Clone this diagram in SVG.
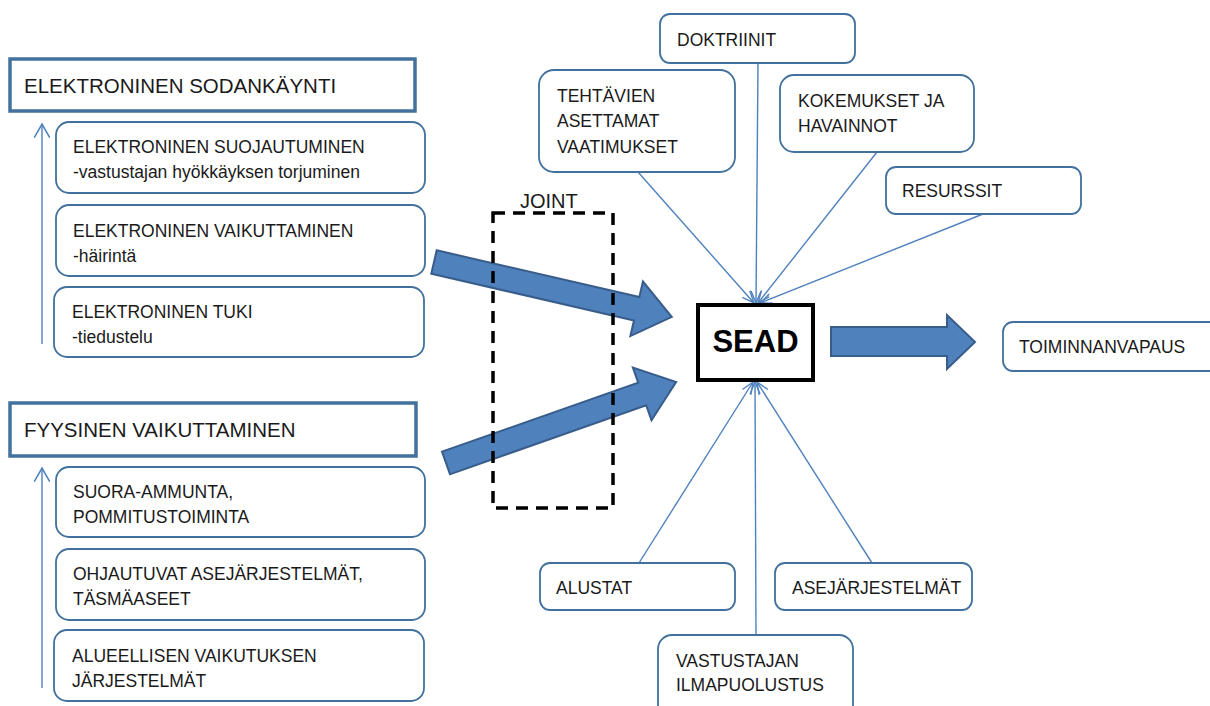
<svg xmlns="http://www.w3.org/2000/svg" width="1210" height="706" viewBox="0 0 1210 706">
<style>
text{font-family:"Liberation Sans",Arial,sans-serif;fill:#1a1a1a;font-size:17.5px}
.hdr{fill:#fff;stroke:#41719C;stroke-width:3.5}
.hdrt{font-size:20.5px}
.box{fill:#fff;stroke:#41719C;stroke-width:1.8}
.con{stroke:#4F81BD;stroke-width:1.4;fill:none}
.big{fill:#4F81BD;stroke:#385D8A;stroke-width:2}
</style>
<defs>
<marker id="oa" viewBox="0 0 12 12" refX="12" refY="6" markerWidth="12" markerHeight="12" markerUnits="userSpaceOnUse" orient="auto">
<path d="M0,1 L12,6 L0,11" fill="none" stroke="#4F81BD" stroke-width="1.4"/>
</marker>
<marker id="up" viewBox="0 0 16 16" refX="14" refY="8" markerWidth="16" markerHeight="16" markerUnits="userSpaceOnUse" orient="auto">
<path d="M0,0 L14,8 L0,16" fill="none" stroke="#4F81BD" stroke-width="1.6"/>
</marker>
</defs>
<rect width="1210" height="706" fill="#fff"/>

<g id="connectors">
<line class="con" x1="42" y1="344" x2="42" y2="124" marker-end="url(#up)"/>
<line class="con" x1="42" y1="688" x2="42" y2="468" marker-end="url(#up)"/>
<line class="con" x1="638" y1="172" x2="754" y2="303" marker-end="url(#oa)"/>
<line class="con" x1="758" y1="63" x2="756" y2="303" marker-end="url(#oa)"/>
<line class="con" x1="877" y1="152" x2="758" y2="303" marker-end="url(#oa)"/>
<line class="con" x1="983" y1="214" x2="760" y2="303" marker-end="url(#oa)"/>
<line class="con" x1="639" y1="563" x2="753" y2="382" marker-end="url(#oa)"/>
<line class="con" x1="756" y1="635" x2="755" y2="382" marker-end="url(#oa)"/>
<line class="con" x1="872" y1="563" x2="757" y2="382" marker-end="url(#oa)"/>
<polygon class="big" transform="translate(434,262) rotate(13)" points="0,-12 208,-12 208,-28 244,0 208,28 208,12 0,12"/>
<polygon class="big" transform="translate(446,463) rotate(-19.4)" points="0,-12 208,-12 208,-28 244,0 208,28 208,12 0,12"/>
<polygon class="big" points="831,327 947,327 947,315 975,342 947,369 947,356 831,356"/>
</g>

<g id="joint">
<rect x="493" y="213" width="120" height="295" fill="none" stroke="#000" stroke-width="3.5" stroke-dasharray="12 8"/>
<text x="520" y="208" style="font-size:20px">JOINT</text>
</g>

<g id="elektroninen-sodankaynti">
<rect class="hdr" x="10" y="59" width="405" height="52"/>
<text class="hdrt" x="24" y="93">ELEKTRONINEN SODANKÄYNTI</text>
</g>
<g id="suojautuminen">
<rect class="box" x="56" y="122" width="369" height="71" rx="13"/>
<text x="73" y="153">ELEKTRONINEN SUOJAUTUMINEN</text>
<text x="73" y="178">-vastustajan hyökkäyksen torjuminen</text>
</g>
<g id="vaikuttaminen">
<rect class="box" x="56" y="205" width="369" height="71" rx="13"/>
<text x="73" y="237">ELEKTRONINEN VAIKUTTAMINEN</text>
<text x="73" y="262">-häirintä</text>
</g>
<g id="tuki">
<rect class="box" x="54" y="287" width="370" height="70" rx="13"/>
<text x="72" y="318">ELEKTRONINEN TUKI</text>
<text x="72" y="343">-tiedustelu</text>
</g>

<g id="fyysinen">
<rect class="hdr" x="10" y="403" width="406" height="53"/>
<text class="hdrt" x="24" y="437">FYYSINEN VAIKUTTAMINEN</text>
</g>
<g id="suora-ammunta">
<rect class="box" x="56" y="467" width="369" height="70" rx="13"/>
<text x="73" y="498">SUORA-AMMUNTA,</text>
<text x="73" y="523">POMMITUSTOIMINTA</text>
</g>
<g id="ohjautuvat">
<rect class="box" x="56" y="549" width="369" height="71" rx="13"/>
<text x="73" y="580">OHJAUTUVAT ASEJÄRJESTELMÄT,</text>
<text x="73" y="605">TÄSMÄASEET</text>
</g>
<g id="alueellisen">
<rect class="box" x="54" y="630" width="370" height="71" rx="13"/>
<text x="72" y="662">ALUEELLISEN VAIKUTUKSEN</text>
<text x="72" y="687">JÄRJESTELMÄT</text>
</g>

<g id="doktriinit">
<rect class="box" x="660" y="14" width="195" height="49" rx="10"/>
<text x="677" y="46">DOKTRIINIT</text>
</g>
<g id="tehtavien">
<rect class="box" x="539" y="70" width="196" height="102" rx="15"/>
<text x="557" y="102">TEHTÄVIEN</text>
<text x="557" y="127">ASETTAMAT</text>
<text x="557" y="153">VAATIMUKSET</text>
</g>
<g id="kokemukset">
<rect class="box" x="780" y="75" width="194" height="77" rx="14"/>
<text x="798" y="107">KOKEMUKSET JA</text>
<text x="798" y="132">HAVAINNOT</text>
</g>
<g id="resurssit">
<rect class="box" x="886" y="167" width="195" height="47" rx="10"/>
<text x="902" y="197">RESURSSIT</text>
</g>

<g id="sead">
<rect x="698" y="305" width="115" height="75" fill="#fff" stroke="#000" stroke-width="4"/>
<text x="755.5" y="352" text-anchor="middle" style="font-size:31px;font-weight:bold;fill:#000">SEAD</text>
</g>

<g id="toiminnanvapaus">
<rect class="box" x="1003" y="322" width="230" height="49" rx="10"/>
<text x="1019" y="353">TOIMINNANVAPAUS</text>
</g>

<g id="alustat">
<rect class="box" x="540" y="563" width="195" height="47" rx="10"/>
<text x="556" y="594">ALUSTAT</text>
</g>
<g id="asejarjestelmat">
<rect class="box" x="775" y="563" width="197" height="47" rx="10"/>
<text x="792" y="594">ASEJÄRJESTELMÄT</text>
</g>
<g id="vastustajan">
<rect class="box" x="658" y="635" width="195" height="90" rx="14"/>
<text x="676" y="667">VASTUSTAJAN</text>
<text x="676" y="691">ILMAPUOLUSTUS</text>
</g>
</svg>
